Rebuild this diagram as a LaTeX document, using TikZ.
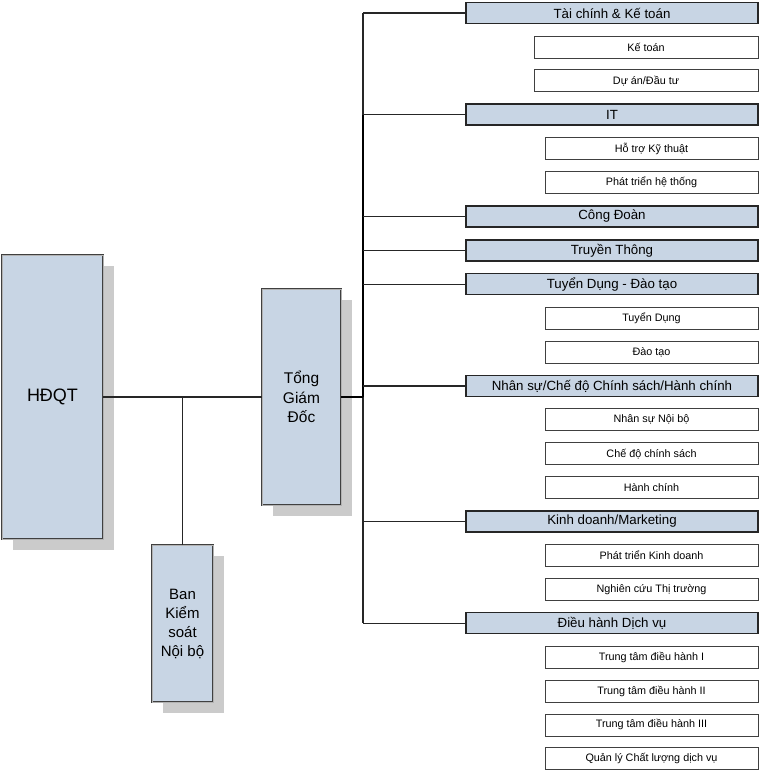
\documentclass[tikz,border=0pt]{standalone}
\usepackage{fontspec}
\setmainfont{Liberation Sans}
\usetikzlibrary{shadows}
\definecolor{boxblue}{HTML}{C8D5E4}
\definecolor{shadowgray}{HTML}{CBCBCB}
\begin{document}
\begin{tikzpicture}[x=1pt,y=-1pt,
  mainbox/.style={draw=black!75, line width=0.7pt, double=gray!60, double distance=1pt,
    fill=boxblue, align=center, inner sep=0pt,
    drop shadow={shadow xshift=11pt, shadow yshift=-11pt, fill=shadowgray, opacity=1}},
  hdr/.style={draw=black!85, line width=1.5pt, fill=boxblue, inner sep=0pt,
    minimum width=292pt, minimum height=21pt, font=\fontsize{13.3}{15}\selectfont},
  sub/.style={draw=black!75, line width=0.7pt, fill=white, inner sep=0pt,
    minimum width=213pt, minimum height=22pt, font=\fontsize{10.8}{12}\selectfont},
  wsub/.style={sub, minimum width=224pt},
  conn/.style={draw=black!85, line width=1.3pt},
  thickconn/.style={draw=black, line width=2pt}]
\useasboundingbox (0,0) rectangle (761,780);

% top-level bodies
\node[mainbox, minimum width=101pt, minimum height=284pt, font=\fontsize{18}{22}\selectfont]
  (hdqt) at (52.5,397) {HĐQT};
\node[mainbox, minimum width=79pt, minimum height=216pt, font=\fontsize{15.5}{19.5}\selectfont]
  (tgd) at (301.5,397) {Tổng\\Giám\\Đốc};
\node[mainbox, minimum width=61pt, minimum height=157pt, font=\fontsize{15}{19}\selectfont]
  (bks) at (182.5,623.5) {Ban\\Kiểm\\soát\\Nội bộ};

% departments (headers) and their units
\node[hdr]  (tc)   at (612,13)    {Tài chính \& Kế toán};
\node[wsub] (kt)   at (646,46.9)  {Kế toán};
\node[wsub] (dadt) at (646,80.8)  {Dự án/Đầu tư};
\node[hdr]  (it)   at (612,114.7) {IT};
\node[sub]  (htkt) at (651.5,148.6) {Hỗ trợ Kỹ thuật};
\node[sub]  (ptht) at (651.5,182.5) {Phát triển hệ thống};
\node[hdr]  (cd)   at (612,216.4) {Công Đoàn};
\node[hdr]  (tt)   at (612,250.3) {Truyền Thông};
\node[hdr]  (tddt) at (612,284.2) {Tuyển Dụng - Đào tạo};
\node[sub]  (td)   at (651.5,318.1) {Tuyển Dụng};
\node[sub]  (dt)   at (651.5,352.0) {Đào tạo};
\node[hdr]  (ns)   at (612,385.9) {Nhân sự/Chế độ Chính sách/Hành chính};
\node[sub]  (nsnb) at (651.5,419.8) {Nhân sự Nội bộ};
\node[sub]  (cdcs) at (651.5,453.7) {Chế độ chính sách};
\node[sub]  (hc)   at (651.5,487.6) {Hành chính};
\node[hdr]  (kd)   at (612,521.5) {Kinh doanh/Marketing};
\node[sub]  (ptkd) at (651.5,555.4) {Phát triển Kinh doanh};
\node[sub]  (nctt) at (651.5,589.3) {Nghiên cứu Thị trường};
\node[hdr]  (dh)   at (612,623.2) {Điều hành Dịch vụ};
\node[sub]  (tt1)  at (651.5,657.1) {Trung tâm điều hành I};
\node[sub]  (tt2)  at (651.5,691.0) {Trung tâm điều hành II};
\node[sub]  (tt3)  at (651.5,724.9) {Trung tâm điều hành III};
\node[sub]  (qlcl) at (651.5,758.8) {Quản lý Chất lượng dịch vụ};

% trunk of the department bus
\coordinate (tTop) at (363,13);
\coordinate (tBot) at (363,623.2);
\draw[conn] (tTop) -- (tBot);
\draw[thickconn] (it.west -| tTop) -- (tgd.east -| tTop);

% board links
\draw[conn] (hdqt.east) -- (tgd.west);
\draw[conn] (hdqt.east -| bks.north) -- (bks.north);
\draw[thickconn] (tgd.east) -- (tgd.east -| tTop);

% department branches
\foreach \h in {tc,it,cd,tt,tddt,ns,kd,dh}
  \draw[conn] (\h.west) -- (\h.west -| tTop);
\end{tikzpicture}
\end{document}
